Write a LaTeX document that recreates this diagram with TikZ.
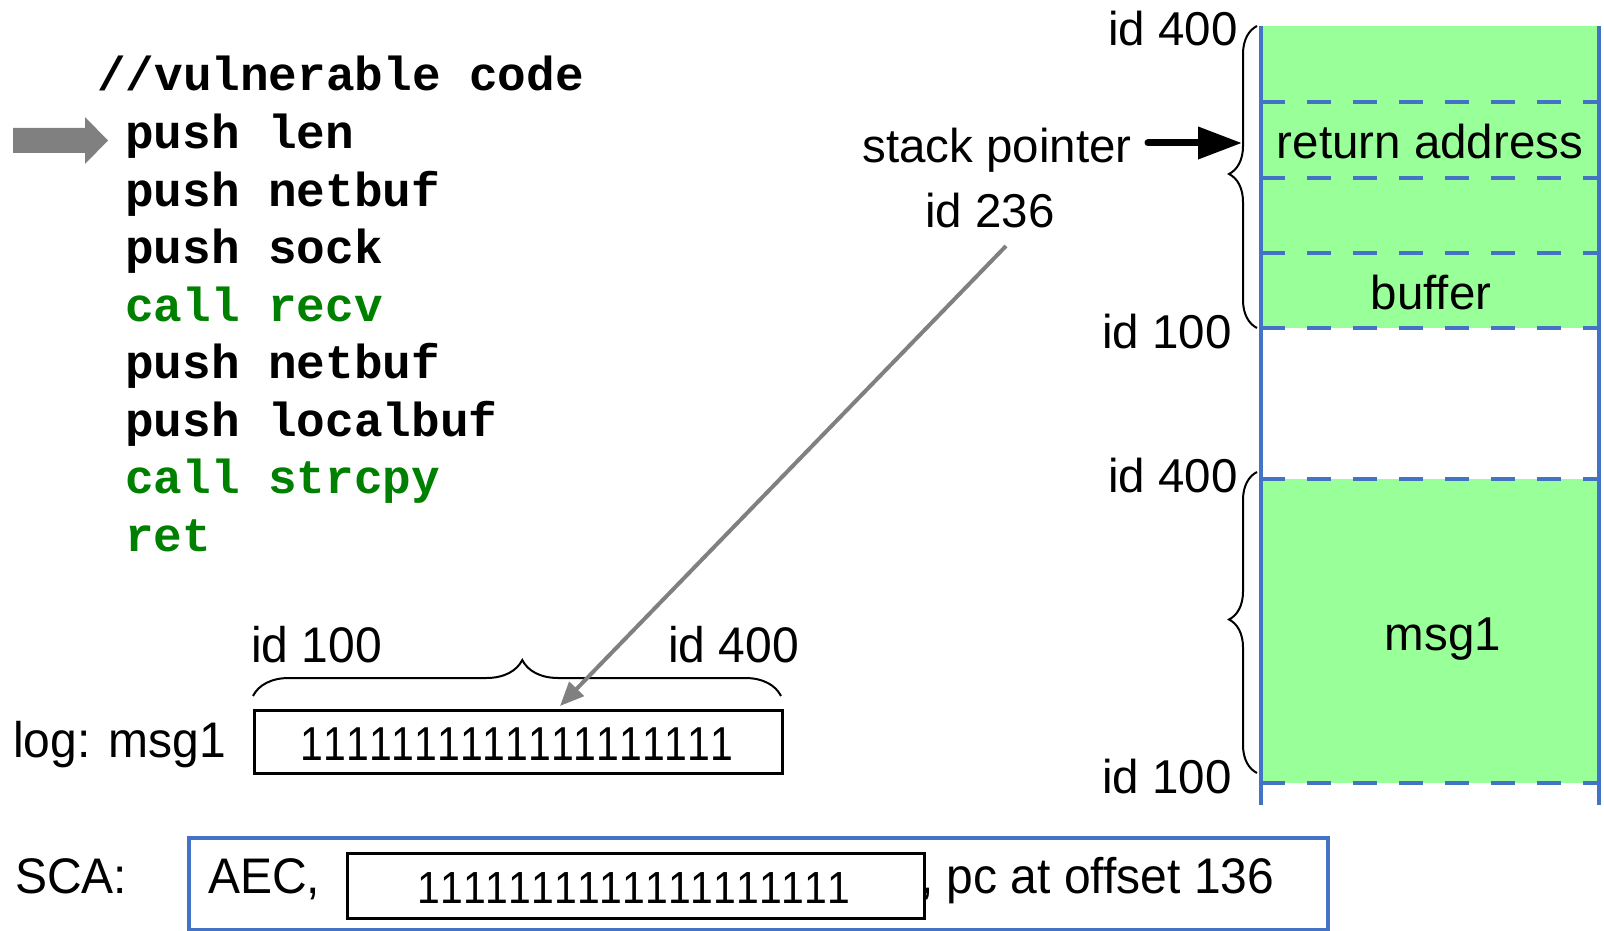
\documentclass[tikz,border=0pt]{standalone}
\usepackage{fontspec}
\usepackage{graphicx}
\setmainfont{Liberation Sans}
\newfontfamily\codefont{Liberation Mono}
\newfontfamily\narrowsans{Liberation Sans}[FakeStretch=0.96]
\newfontfamily\bitsA{Liberation Sans}[FakeStretch=0.86,Kerning=Off]
\newfontfamily\bitsB{Liberation Sans}[FakeStretch=0.91,Kerning=Off]
\usetikzlibrary{arrows.meta,decorations.pathreplacing}

\definecolor{stackblue}{HTML}{4472C4}
\definecolor{stackgreen}{HTML}{99FF99}
\definecolor{codegreen}{HTML}{008000}
\definecolor{ptrgray}{HTML}{808080}

\begin{document}
\begin{tikzpicture}[x=1pt,y=-1pt,
  code/.style={anchor=base west,inner sep=0pt,
    font=\codefont\bfseries\fontsize{47.7}{50}\selectfont},
  call/.style={code,text=codegreen},
  lbl/.style={anchor=base,inner sep=0pt,font=\fontsize{47.5}{50}\selectfont},
  idr/.style={lbl,anchor=base east},
  nlbl/.style={anchor=base west,inner sep=0pt,
    font=\narrowsans\fontsize{50}{55}\selectfont},
  brc/.style={decorate,decoration={brace,amplitude=#1,aspect=0.51},
    line width=2pt},
  dashsep/.style={stackblue,line width=3.6pt,dash pattern=on 24pt off 22pt},
  wall/.style={stackblue,line width=4.5pt},
  bitbox/.style={draw,line width=2.5pt,inner sep=0pt,anchor=north west}
]
\useasboundingbox (0,0) rectangle (1604,931);

% current-instruction marker
\fill[ptrgray] (13,128) -- (85,128) -- (85,117) -- (108,140.5)
  -- (85,164) -- (85,153) -- (13,153) -- cycle;

% listing
\node[code] (c0) at (97,91)    {//vulnerable code};
\node[code] (c1) at (125,148.5) {push len};
\node[code] (c2) at (125,206)  {push netbuf};
\node[code] (c3) at (125,263.5) {push sock};
\node[call] (c4) at (125,321)  {call recv};
\node[code] (c5) at (125,378.5) {push netbuf};
\node[code] (c6) at (125,436)  {push localbuf};
\node[call] (c7) at (125,493.5) {call strcpy};
\node[call] (c8) at (125,551)  {ret};

% stack frames
\fill[stackgreen] (1261,26) rectangle (1599,328);
\fill[stackgreen] (1261,479) rectangle (1599,783);
\foreach \y in {102,178,253,328,479,783}
  \draw[dashsep] (1261,\y) -- (1599,\y);
\draw[wall] (1261,26) -- (1261,805);
\draw[wall] (1599,26) -- (1599,805);

\node[lbl] (ret) at (1430,158) {return address};
\node[lbl] (buf) at (1431,309) {buffer};
\node[lbl] (msg) at (1443,650) {msg1};

\node[idr] (t400) at (1238,46)  {id 400};
\node[idr] (t100) at (1232,348) {id 100};
\node[idr] (b400) at (1238,492) {id 400};
\node[idr] (b100) at (1232,793) {id 100};

\draw[brc=28pt] (1257,328) -- (1257,26);
\draw[brc=28pt] (1257,773) -- (1257,472);

% stack pointer
\node[lbl] (sp) at (997,163) {stack pointer};
\node[lbl] (sid) at (990,227) {id 236};
\coordinate (spstart) at (1148,143);
\coordinate (sptip) at (1242,143);
\draw[line width=7pt,line cap=round,-{Triangle[length=44pt,width=31pt]}]
  (spstart) -- (sptip);

% log record
\node[nlbl] (logl) at (13,757) {log: msg1};
\node[bitbox,minimum width=528pt,minimum height=63pt] (logbox) at (253,709) {};
\node[anchor=base,inner sep=0pt,font=\bitsA\fontsize{47.6}{50}\selectfont]
  (logbits) at (517,760) {1111111111111111111};
\draw[brc=36pt] (253,696) -- (781,696);
\node[nlbl] (l100) at (251,662) {id 100};
\node[nlbl] (l400) at (668,662) {id 400};

\coordinate (gstart) at (1006,246);
\coordinate (gend) at (560,706);
\draw[ptrgray,line width=4pt,-{Triangle[length=24pt,width=20pt]}]
  (gstart) -- (gend);

% SCA report
\node[nlbl] (sca) at (15,893) {SCA:};
\node[draw=stackblue,line width=4pt,inner sep=0pt,anchor=north west,
  minimum width=1139pt,minimum height=92pt] (scabox) at (187,836) {};
\node[nlbl] (aec) at (208,893) {AEC,};
\node[bitbox,minimum width=577pt,minimum height=65pt] (innerbox) at (346,852) {};
\node[anchor=base,inner sep=0pt,font=\bitsB\fontsize{45}{50}\selectfont]
  (innerbits) at (634,903) {1111111111111111111};
\node[nlbl] (pc) at (920,893) {, pc at offset 136};
\end{tikzpicture}
\end{document}
